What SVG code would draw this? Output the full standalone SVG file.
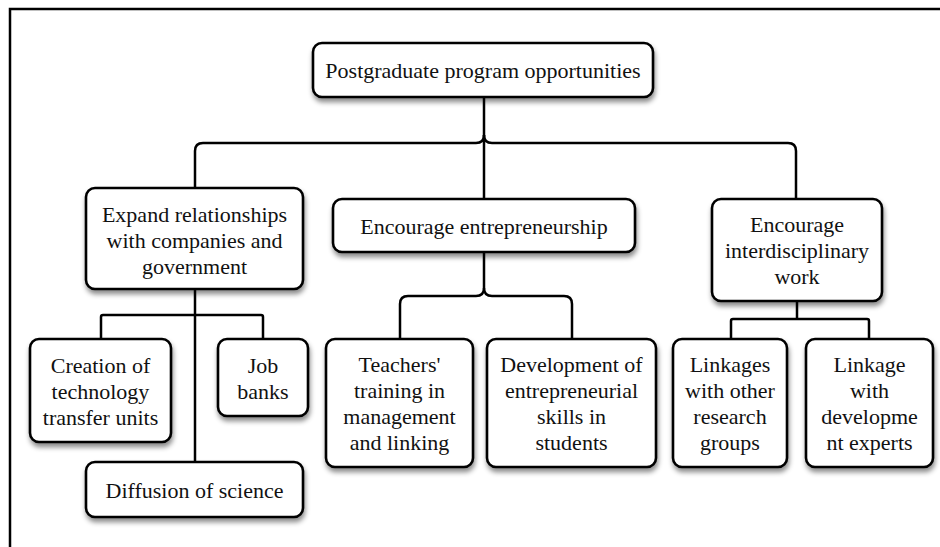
<svg xmlns="http://www.w3.org/2000/svg" width="940" height="547" viewBox="0 0 940 547">
<style>
.box{fill:#fff;stroke:#000;stroke-width:2.6;filter:url(#sh)}
.t{font-family:'Liberation Serif','Times New Roman',serif;font-size:22px;fill:#111;text-anchor:middle}
.c{fill:none;stroke:#000;stroke-width:2.5}
</style>
<defs>
<filter id="sh" x="-10%" y="-10%" width="130%" height="140%">
<feDropShadow dx="1" dy="4" stdDeviation="2.5" flood-color="#000" flood-opacity="0.45"/>
</filter>
</defs>
<rect width="940" height="547" fill="#fff"/>
<path d="M10 547 V9 H940" fill="none" stroke="#000" stroke-width="2.5"/>
<g id="connectors">
<path class="c" d="M484 97 V200"/>
<path class="c" d="M484 135 Q484 143 476 143 H203 Q195 143 195 151 V188"/>
<path class="c" d="M484 135 Q484 143 492 143 H788 Q796 143 796 151 V199"/>
<path class="c" d="M484 252 V288 Q484 296 476 296 H408 Q400 296 400 304 V339"/>
<path class="c" d="M484 288 Q484 296 492 296 H564 Q572 296 572 304 V339"/>
<path class="c" d="M195 289 V462"/>
<path class="c" d="M101 339 V317 Q101 315 103 315 H261 Q263 315 263 317 V339"/>
<path class="c" d="M797 301 V319"/>
<path class="c" d="M731 339 V321 Q731 319 733 319 H867 Q869 319 869 321 V339"/>
</g>
<g id="n-top"><rect class="box" x="313" y="43" width="340" height="54" rx="9"/><text class="t" x="483" y="78">Postgraduate program opportunities</text></g>
<g id="n-expand"><rect class="box" x="86" y="188" width="217" height="101" rx="9"/><text class="t" x="194.5" y="222">Expand relationships</text><text class="t" x="194.5" y="248">with companies and</text><text class="t" x="194.5" y="274">government</text></g>
<g id="n-entre"><rect class="box" x="333" y="199" width="302" height="53" rx="9"/><text class="t" x="484" y="233.5">Encourage entrepreneurship</text></g>
<g id="n-inter"><rect class="box" x="712" y="199" width="170" height="102" rx="9"/><text class="t" x="797" y="232">Encourage</text><text class="t" x="797" y="258">interdisciplinary</text><text class="t" x="797" y="284">work</text></g>
<g id="n-creation"><rect class="box" x="30" y="339" width="141" height="103" rx="9"/><text class="t" x="100.5" y="372.5">Creation of</text><text class="t" x="100.5" y="398.5">technology</text><text class="t" x="100.5" y="424.5">transfer units</text></g>
<g id="n-job"><rect class="box" x="218" y="339" width="90" height="77" rx="9"/><text class="t" x="263" y="372.5">Job</text><text class="t" x="263" y="398.5">banks</text></g>
<g id="n-diffusion"><rect class="box" x="86" y="462" width="217" height="55" rx="9"/><text class="t" x="194.5" y="497.5">Diffusion of science</text></g>
<g id="n-teachers"><rect class="box" x="326" y="339" width="147" height="128" rx="9"/><text class="t" x="399.5" y="372">Teachers'</text><text class="t" x="399.5" y="398">training in</text><text class="t" x="399.5" y="424">management</text><text class="t" x="399.5" y="450">and linking</text></g>
<g id="n-development"><rect class="box" x="487" y="339" width="169" height="128" rx="9"/><text class="t" x="571.5" y="372">Development of</text><text class="t" x="571.5" y="398">entrepreneurial</text><text class="t" x="571.5" y="424">skills in</text><text class="t" x="571.5" y="450">students</text></g>
<g id="n-linkages"><rect class="box" x="673" y="339" width="114" height="128" rx="9"/><text class="t" x="730" y="372">Linkages</text><text class="t" x="730" y="398">with other</text><text class="t" x="730" y="424">research</text><text class="t" x="730" y="450">groups</text></g>
<g id="n-linkage"><rect class="box" x="806" y="339" width="127" height="128" rx="9"/><text class="t" x="869.5" y="372">Linkage</text><text class="t" x="869.5" y="398">with</text><text class="t" x="869.5" y="424">developme</text><text class="t" x="869.5" y="450">nt experts</text></g>
</svg>
